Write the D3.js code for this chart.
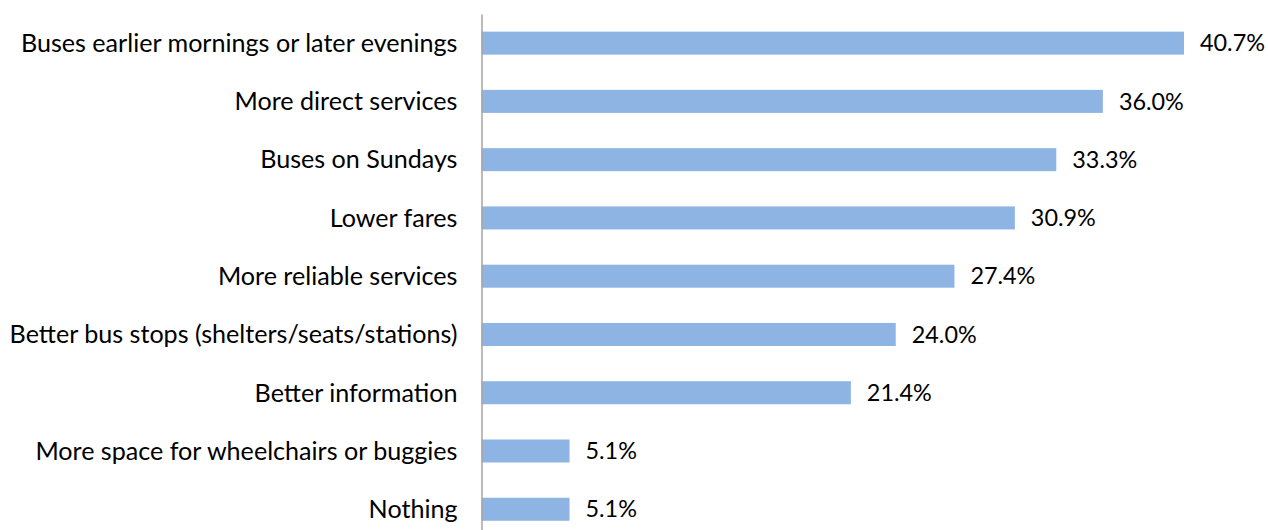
<head>
  <script src="https://d3js.org/d3.v7.min.js"></script>
</head>
<style>
body { margin: 0; background: #fff; }
text { font-family: Lato, "Open Sans", sans-serif; fill: #000; }
.bar { fill: #8eb4e3; }
</style>
<body>
  <svg id="svg_bars"></svg>
</body>
<script>
  var categories = [
    "Buses earlier mornings or later evenings",
    "More direct services",
    "Buses on Sundays",
    "Lower fares",
    "More reliable services",
    "Better bus stops (shelters/seats/stations)",
    "Better information",
    "More space for wheelchairs or buggies",
    "Nothing"
  ];
  var values = [40.7, 36.0, 33.3, 30.9, 27.4, 24.0, 21.4, 5.1, 5.1];

  var w = 1268;
  var h = 530;
  var x0 = 481.5;

  var svg = d3.select("svg#svg_bars")
    .attr("width", w)
    .attr("height", h);

  var x = d3.scaleLinear()
    .domain([0, 40.7])
    .range([x0, 1184]);

  var y = d3.scaleBand()
    .domain(categories)
    .range([14, 538.4])
    .paddingInner(0.605)
    .paddingOuter(0.3025);

  // fit font sizes so the texts have the same widths as in the picture
  function fit(str, target) {
    var probe = svg.append("text").style("font-size", "24px").text(str);
    var len = probe.node().getComputedTextLength();
    probe.remove();
    return 24 * target / len;
  }
  var fontSize = fit(categories[5], 448);
  var valSize = fit("40.7%", 65);

  svg.selectAll("rect.bar")
    .data(values)
    .enter().append("rect")
    .attr("class", "bar")
    .attr("x", x(0))
    .attr("y", function(d, i) { return y(categories[i]); })
    .attr("width", function(d) { return x(d) - x(0); })
    .attr("height", y.bandwidth());

  svg.selectAll("text.val")
    .data(values)
    .enter().append("text")
    .attr("class", "val")
    .attr("x", function(d) { return x(d) + 16; })
    .attr("y", function(d, i) { return y(categories[i]) + y.bandwidth() / 2; })
    .attr("dy", "0.35em")
    .style("font-size", valSize + "px")
    .text(function(d) { return d.toFixed(1) + "%"; });

  // category axis: only the line and the labels
  var yAxis = svg.append("g")
    .attr("transform", "translate(" + x0 + ",0)")
    .call(d3.axisLeft(y).tickSize(0).tickPadding(24));
  yAxis.select(".domain").attr("stroke", "#a6a6a6").attr("stroke-width", 1.5);
  yAxis.selectAll(".tick text")
    .attr("dy", "0.35em")
    .style("font-size", fontSize + "px")
    .style("font-family", "Lato, 'Open Sans', sans-serif")
    .attr("fill", "#000");
</script>
